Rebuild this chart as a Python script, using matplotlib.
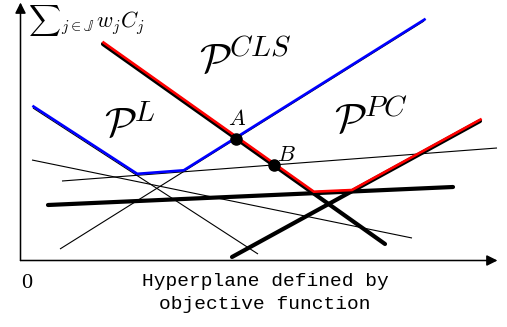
import numpy as np
import matplotlib
matplotlib.use("Agg")
import matplotlib.pyplot as plt
import matplotlib.transforms as mtransforms

plt.rcParams['mathtext.fontset'] = 'cm'

# Line segments in chart units (origin at axis corner, y upward): (x0, y0, x1, y1)
thick_desc = [82.5, 216.5, 364.5, 16.5]     # defines A and B
thick_asc = [211.5, 3.5, 459.5, 139.5]
thick_flat = [27.5, 55.5, 432.5, 73.5]
thin_a = [12.5, 152.5, 237.5, 6.5]
thin_b = [39.5, 11.5, 403.5, 239.5]
thin_c = [41.5, 79.5, 476.5, 112.5]
thin_d = [11.5, 100.5, 391.5, 22.5]

red_set = [thick_desc, thick_asc, thick_flat]
red_range = [82.5, 459.5]
blue_set = [thin_a, thin_b, thin_c]
blue_range = [12.5, 403.5]

region_labels = [r'$\mathcal{P}^{CLS}$', r'$\mathcal{P}^{L}$', r'$\mathcal{P}^{PC}$']
region_pos = [(224.5, 200.5), (109.5, 135.5), (350.5, 140.5)]
point_names = ['A', 'B']
x_label = 'Hyperplane defined by\nobjective function'
y_label = r'${\sum}_{j\in\mathbb{J}}\, w_j C_j$'


def line_coef(s):
    x0, y0, x1, y1 = s
    m = (y1 - y0) / (x1 - x0)
    return m, y0 - m * x0


def intersect(s1, s2):
    m1, c1 = line_coef(s1)
    m2, c2 = line_coef(s2)
    x = (c2 - c1) / (m1 - m2)
    return x, m1 * x + c1


def envelope(segs, xr):
    xs = set(xr)
    for i in range(len(segs)):
        for j in range(i + 1, len(segs)):
            x, _ = intersect(segs[i], segs[j])
            if xr[0] < x < xr[1]:
                xs.add(x)
    xs = np.array(sorted(xs))
    ys = []
    for x in xs:
        vals = []
        for s in segs:
            m, c = line_coef(s)
            lo, hi = min(s[0], s[2]), max(s[0], s[2])
            if lo - 1e-6 <= x <= hi + 1e-6:
                vals.append(m * x + c)
        ys.append(max(vals))
    return xs, np.array(ys)


fig = plt.figure(figsize=(5.07, 3.27), dpi=100)
ax = fig.add_axes([0, 0, 1, 1])
ax.set_xlim(-20.5, 486.5)
ax.set_ylim(-66.5, 260.5)
ax.axis('off')

# axes arrows
ax.annotate('', xy=(0, 258), xytext=(0, 0),
            arrowprops=dict(arrowstyle='-|>', mutation_scale=16, lw=1.1, color='black',
                            shrinkA=0, shrinkB=0))
ax.annotate('', xy=(477, 0), xytext=(0, 0),
            arrowprops=dict(arrowstyle='-|>', mutation_scale=16, lw=1.1, color='black',
                            shrinkA=0, shrinkB=0))

# thin lines
for s in [thin_a, thin_b, thin_c, thin_d]:
    ax.plot([s[0], s[2]], [s[1], s[3]], color='black', lw=0.8, solid_capstyle='butt')
# thick lines
for s in red_set:
    ax.plot([s[0], s[2]], [s[1], s[3]], color='black', lw=3.0, solid_capstyle='round')

off = mtransforms.offset_copy(ax.transData, fig=fig, x=0.5, y=1.5, units='dots')
bx, by = envelope(blue_set, blue_range)
ax.plot(bx, by, color='#0000ff', lw=1.9, transform=off, solid_joinstyle='miter')
rx, ry = envelope(red_set, red_range)
ax.plot(rx, ry, color='#ff0000', lw=1.9, transform=off, solid_joinstyle='miter')

# points
A = intersect(thick_desc, thin_b)
B = intersect(thick_desc, thin_c)
for name, p, d in zip(point_names, [A, B], [(1, 20), (13, 10)]):
    ax.plot(p[0], p[1], 'o', color='black', ms=8, zorder=5)
    ax.text(p[0] + d[0], p[1] + d[1], f'${name}$', fontsize=16, ha='center', va='center')

for lab, pos in zip(region_labels, region_pos):
    ax.text(pos[0], pos[1], lab, fontsize=30, ha='center', va='center')

ax.text(7, 240, y_label, fontsize=16, ha='left', va='center')
ax.text(6.5, -22.5, '0', fontsize=16, family='Liberation Serif', ha='center', va='center')
ax.text(244.5, -32.5, x_label, fontsize=14, family='Liberation Mono', ha='center',
        va='center', linespacing=1.45)

fig.savefig('out.png', dpi=100)
